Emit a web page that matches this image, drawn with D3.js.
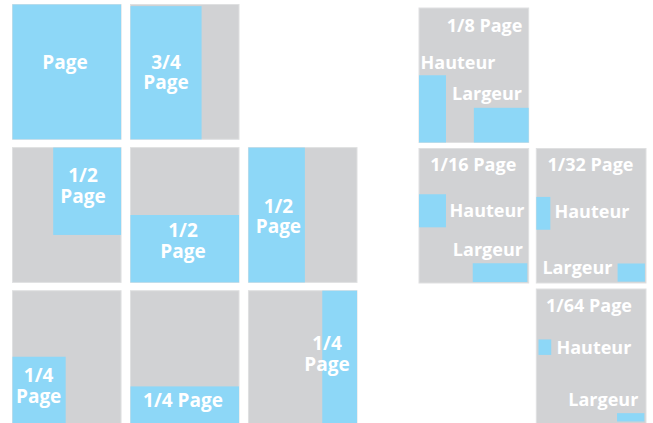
<!DOCTYPE html>
<html>
<head>
<meta charset="utf-8">
<script src="https://cdn.jsdelivr.net/npm/d3@7"></script>
<style>
  html, body { margin: 0; padding: 0; background: #ffffff; }
  #dataviz { width: 653px; height: 423px; overflow: hidden; }
  text { font-family: "Open Sans", "DejaVu Sans", sans-serif; font-weight: 700; fill: #ffffff; }
</style>
</head>
<body>
<div id="dataviz"></div>
<script>
// ad formats, left block (whole page splits)
const formatNames = ["Page", "3/4 Page", "1/2 Page", "1/2 Page", "1/2 Page", "1/4 Page", "1/4 Page", "1/4 Page"];
const formatLabels = [["Page"], ["3/4", "Page"], ["1/2", "Page"], ["1/2", "Page"], ["1/2", "Page"], ["1/4", "Page"], ["1/4 Page"], ["1/4", "Page"]];
const formatShares = [1, 0.75, 0.5, 0.5, 0.5, 0.25, 0.25, 0.25];
// blue area in page units: [x0, y0, x1, y1]
const formatAreas = [
  [0, 0, 1, 1],
  [0, 0.012, 0.655, 1],
  [0.375, 0, 1, 0.648],
  [0, 0.5, 1, 1],
  [0, 0, 0.52, 1],
  [0, 0.49, 0.49, 1],
  [0, 0.71, 1, 1],
  [0.68, 0, 1, 1]
];

// small formats, right block
const smallNames = ["1/8 Page", "1/16 Page", "1/32 Page", "1/64 Page"];
const smallShares = [1 / 8, 1 / 16, 1 / 32, 1 / 64];
const orientLabels = ["Hauteur", "Largeur"];
// hauteur (tall) and largeur (wide) areas in page units
const hauteurAreas = [
  [0, 0.5, 0.246, 1],
  [0, 0.34, 0.246, 0.586],
  [0, 0.36, 0.128, 0.604],
  [0.02, 0.375, 0.136, 0.49]
];
const largeurAreas = [
  [0.5, 0.742, 1, 1],
  [0.49, 0.853, 0.987, 0.993],
  [0.741, 0.855, 0.99, 0.99],
  [0.736, 0.923, 0.985, 0.985]
];

// ---- layout (grid slots and label anchors, page units) ----
const leftSlots = [[0, 0], [1, 0], [0, 1], [1, 1], [2, 1], [0, 2], [1, 2], [2, 2]];
const leftAnchors = [
  [0.484, 0.478],
  [0.327, 0.478],
  [0.65, 0.258],
  [0.484, 0.665],
  [0.276, 0.485],
  [0.241, 0.68],
  [0.484, 0.86],
  [0.724, 0.441]
];
const lineStep = 20.5;
const rightSlots = [[0, 0], [0, 1], [1, 1], [1, 2]];
// [title, hauteur, largeur] as [cx, baseline]
const rightAnchors = [
  [[0.598, 0.176], [0.356, 0.456], [0.62, 0.684]],
  [[0.495, 0.167], [0.62, 0.509], [0.628, 0.799]],
  [[0.494, 0.167], [0.507, 0.514], [0.375, 0.931]],
  [[0.48, 0.173], [0.525, 0.483], [0.611, 0.87]]
];

const grey = "#d1d2d4", edge = "#dfe0e1", blue = "#8dd7f7";

const svg = d3.select("#dataviz")
  .append("svg")
    .attr("width", 653)
    .attr("height", 423);

// grid scales
const leftCol = d3.scaleBand().domain([0, 1, 2]).range([12.5, 357]).paddingInner(0.08);
const leftRow = d3.scaleBand().domain([0, 1, 2]).range([4.5, 425.5]).paddingInner(0.058);
const rightCol = d3.scaleBand().domain([0, 1]).range([419, 646]).paddingInner(0.065);
const rightRow = d3.scaleBand().domain([0, 1, 2]).range([8, 423.5]).paddingInner(0.0427);

function drawPage(g, x, y, w, h) {
  const sx = d3.scaleLinear().domain([0, 1]).range([x, x + w]);
  const sy = d3.scaleLinear().domain([0, 1]).range([y, y + h]);
  g.append("rect")
    .attr("x", sx(0)).attr("y", sy(0))
    .attr("width", sx(1) - sx(0)).attr("height", sy(1) - sy(0))
    .style("fill", grey)
    .style("stroke", edge)
    .style("stroke-width", 1);
  return [sx, sy];
}

function drawArea(g, sx, sy, a) {
  g.append("rect")
    .attr("x", sx(a[0])).attr("y", sy(a[1]))
    .attr("width", sx(a[2]) - sx(a[0]))
    .attr("height", sy(a[3]) - sy(a[1]))
    .style("fill", blue);
}

// left block
formatNames.forEach(function(name, i) {
  const g = svg.append("g").attr("class", "format").attr("data-share", formatShares[i]);
  const slot = leftSlots[i];
  const [sx, sy] = drawPage(g, leftCol(slot[0]), leftRow(slot[1]), leftCol.bandwidth(), leftRow.bandwidth());
  drawArea(g, sx, sy, formatAreas[i]);
  const anchor = leftAnchors[i];
  const label = g.append("text")
    .attr("x", sx(anchor[0]))
    .attr("y", sy(anchor[1]))
    .attr("text-anchor", "middle")
    .style("font-size", "19px");
  formatLabels[i].forEach(function(line, j) {
    label.append("tspan")
      .attr("x", sx(anchor[0]))
      .attr("dy", j === 0 ? 0 : lineStep)
      .text(line);
  });
});

// right block
smallNames.forEach(function(name, i) {
  const g = svg.append("g").attr("class", "small").attr("data-share", smallShares[i]);
  const slot = rightSlots[i];
  const [sx, sy] = drawPage(g, rightCol(slot[0]), rightRow(slot[1]), rightCol.bandwidth(), rightRow.bandwidth());
  drawArea(g, sx, sy, hauteurAreas[i]);
  drawArea(g, sx, sy, largeurAreas[i]);
  const texts = [name].concat(orientLabels);
  texts.forEach(function(t, j) {
    const a = rightAnchors[i][j];
    g.append("text")
      .attr("x", sx(a[0]))
      .attr("y", sy(a[1]))
      .attr("text-anchor", "middle")
      .style("font-size", "18px")
      .text(t);
  });
});
</script>
</body>
</html>
